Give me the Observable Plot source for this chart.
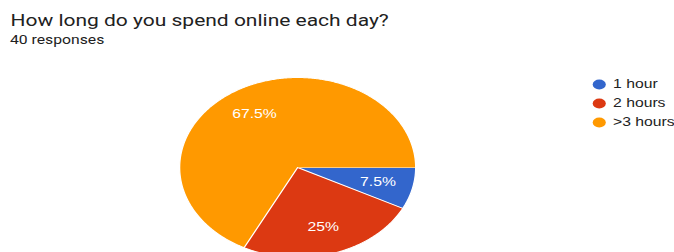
<!DOCTYPE html>
<html>
<head>
<meta charset="utf-8">
<script src="https://cdn.jsdelivr.net/npm/d3@7"></script>
<script src="https://cdn.jsdelivr.net/npm/@observablehq/plot@0.6"></script>
<style>
  html, body { margin: 0; padding: 0; background: #fff; overflow: hidden; }
  #wrap { position: relative; width: 514px; height: 252px; transform-origin: 0 0; font-family: Roboto, sans-serif; }
  #title { position: absolute; left: 8px; top: 10.6px; font-size: 16px; line-height: 20px; color: #212121; white-space: nowrap; }
  #subtitle { position: absolute; left: 7.6px; top: 32.5px; font-size: 12px; line-height: 14px; color: #212121; white-space: nowrap; }
  #pie { position: absolute; left: 0; top: 48px; }
  #legend { position: absolute; left: 445px; top: 0; }
</style>
</head>
<body>
<div id="wrap">
  <div id="title"></div>
  <div id="subtitle"></div>
  <div id="pie"></div>
  <div id="legend"></div>
</div>
<script>
const titleText = "How long do you spend online each day?";
const subtitleText = "40 responses";
const categories = ["1 hour", "2 hours", ">3 hours"];
const percents = [7.5, 25, 67.5];
const labels = ["7.5%", "25%", "67.5%"];
const colors = ["#3366cc", "#dc3912", "#ff9900"];

const wrap = document.getElementById("wrap");
wrap.style.transform = `scaleX(${674 / 514})`;
document.getElementById("title").textContent = titleText;
document.getElementById("subtitle").textContent = subtitleText;

const data = categories.map((c, i) => ({category: c, value: percents[i], label: labels[i]}));
const arcs = d3.pie().sort(null).value(d => d.value)
  .startAngle(Math.PI / 2).endAngle(Math.PI / 2 + 2 * Math.PI)(data);

// polygon outline of each slice, in unit-circle coordinates
const outline = [];
for (const a of arcs) {
  const n = Math.max(2, Math.ceil((a.endAngle - a.startAngle) / 0.01));
  outline.push({category: a.data.category, px: 0, py: 0});
  for (let k = 0; k <= n; k++) {
    const t = a.startAngle + (a.endAngle - a.startAngle) * k / n;
    outline.push({category: a.data.category, px: Math.sin(t), py: Math.cos(t)});
  }
}
const labelPts = arcs.map(a => {
  const m = (a.startAngle + a.endAngle) / 2;
  return {label: a.data.label, px: 0.7 * Math.sin(m), py: 0.7 * Math.cos(m)};
});

const chartFont = "'Liberation Sans', Arial, sans-serif";
const cx = 226.5, cy = 119, R = 90;
const pie = Plot.plot({
  width: 514, height: 204,
  margin: 0,
  style: {fontFamily: chartFont, overflow: "visible"},
  x: {domain: [-1, 1], range: [cx - R, cx + R], axis: null},
  y: {domain: [-1, 1], range: [cy + R, cy - R], axis: null},
  color: {domain: categories, range: colors},
  marks: [
    Plot.line(outline, {x: "px", y: "py", z: "category", fill: "category", stroke: "white", strokeWidth: 1, curve: "linear"}),
    Plot.text(labelPts, {x: "px", y: "py", text: "label", fill: "white", fontSize: 12})
  ]
});
document.getElementById("pie").appendChild(pie);

const legend = Plot.plot({
  width: 69, height: 252,
  margin: 0,
  style: {fontFamily: chartFont, overflow: "visible"},
  y: {type: "point", domain: categories, range: [84, 122], padding: 0, axis: null},
  color: {domain: categories, range: colors},
  marks: [
    Plot.dot(categories, {y: d => d, frameAnchor: "left", dx: 11.5, r: 5, fill: d => d, stroke: null}),
    Plot.text(categories, {y: d => d, text: d => d, frameAnchor: "left", dx: 22, textAnchor: "start", fontSize: 12, fill: "#222222"})
  ]
});
document.getElementById("legend").appendChild(legend);
</script>
</body>
</html>
